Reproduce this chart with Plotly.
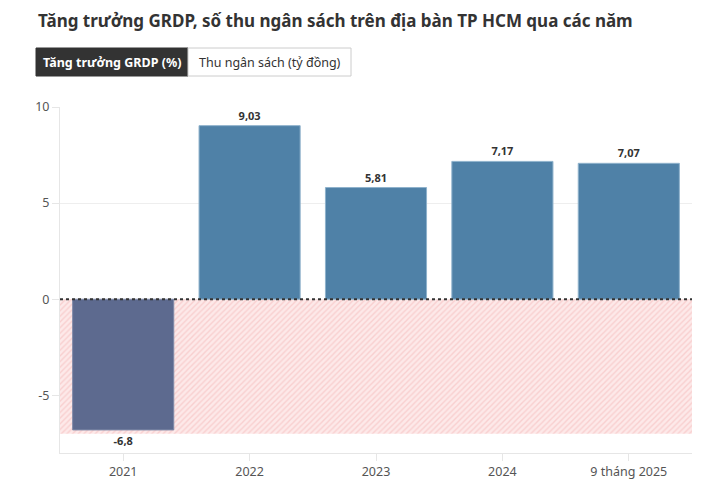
import plotly.graph_objects as go

categories = ["2021", "2022", "2023", "2024", "9 tháng 2025"]
values = [-6.8, 9.03, 5.81, 7.17, 7.07]
labels = ["-6,8", "9,03", "5,81", "7,17", "7,07"]
y_ticks = [-5, 0, 5, 10]
y_tick_labels = ["-5", "0", "5", "10"]
neg_zone_bottom = -7.0

FONT = "Noto Sans"
x_pos = list(range(len(categories)))

fig = go.Figure()

# hatched negative zone (background)
fig.add_trace(go.Bar(
    x=[(len(categories) - 1) / 2], y=[neg_zone_bottom], base=[0],
    width=[len(categories)],
    marker=dict(color="#fdeaea", line=dict(width=0),
                pattern=dict(shape="/", fgcolor="#f3b6b6", bgcolor="#fde9e9",
                             size=4, solidity=0.35)),
    hoverinfo="skip", showlegend=False,
))

colors = ["#5d6a8f" if v < 0 else "#4f81a7" for v in values]
fig.add_trace(go.Bar(
    x=x_pos, y=values, width=0.8,
    text=labels, textposition="outside",
    textfont=dict(family=FONT, size=11, color="#333333", weight="bold"),
    cliponaxis=False,
    marker=dict(color=colors,
                line=dict(color=["#7f8aa8" if v < 0 else "#8fb2cc" for v in values], width=1)),
    showlegend=False,
))

def px_x(px):
    return (px - 60) / 632

def px_y(py):
    return (453 - py) / 346

shapes = [
    dict(type="line", xref="paper", yref="y", x0=0, x1=1, y0=0, y1=0,
         line=dict(color="#333333", width=2, dash="dot"), layer="above"),
    dict(type="rect", xref="paper", yref="paper", x0=px_x(36), x1=px_x(188),
         y0=px_y(76), y1=px_y(48), fillcolor="#333333", line=dict(color="#333333", width=1)),
    dict(type="rect", xref="paper", yref="paper", x0=px_x(188), x1=px_x(351),
         y0=px_y(76), y1=px_y(48), fillcolor="#ffffff", line=dict(color="#cccccc", width=1)),
]

annotations = [
    dict(text="Tăng trưởng GRDP (%)", xref="paper", yref="paper",
         x=px_x(112), y=px_y(62), showarrow=False, xanchor="center", yanchor="middle",
         font=dict(family=FONT, size=12.5, color="#ffffff", weight="bold")),
    dict(text="Thu ngân sách (tỷ đồng)", xref="paper", yref="paper",
         x=px_x(269.5), y=px_y(62), showarrow=False, xanchor="center", yanchor="middle",
         font=dict(family=FONT, size=12.5, color="#333333")),
    dict(text="Tăng trưởng GRDP, số thu ngân sách trên địa bàn TP HCM qua các năm",
         xref="paper", yref="paper", x=px_x(36), y=px_y(20), showarrow=False,
         xanchor="left", yanchor="middle",
         font=dict(family=FONT, size=17, color="#333333", weight="bold")),
]

fig.update_layout(
    width=699, height=483,
    margin=dict(l=52, r=15, t=99, b=38),
    paper_bgcolor="#ffffff", plot_bgcolor="#ffffff",
    barmode="overlay",
    font=dict(family=FONT, color="#555555"),
    shapes=shapes, annotations=annotations,
    xaxis=dict(tickmode="array", tickvals=x_pos, ticktext=categories,
               range=[-0.5, len(categories) - 0.5],
               showgrid=False, zeroline=False,
               showline=True, linecolor="#e6e6e6", linewidth=1,
               ticks="outside", ticklen=7, tickcolor="#e6e6e6",
               tickfont=dict(family=FONT, size=12.5, color="#555555")),
    yaxis=dict(range=[-8, 10], tickmode="array", tickvals=y_ticks, ticktext=y_tick_labels,
               showgrid=True, gridcolor="#eeeeee", gridwidth=1,
               zeroline=False, showline=True, linecolor="#e6e6e6", linewidth=1,
               ticks="outside", ticklen=7, tickcolor="#e6e6e6",
               tickfont=dict(family=FONT, size=12.5, color="#555555")),
)

fig.write_html("out.html")
